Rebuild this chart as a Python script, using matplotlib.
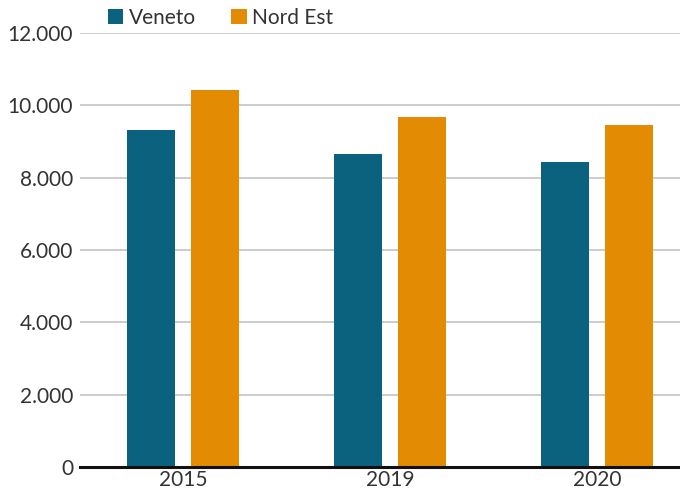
import matplotlib.pyplot as plt
import numpy as np

plt.rcParams['font.family'] = ['Lato', 'DejaVu Sans']

years = ['2015', '2019', '2020']
veneto = [9320, 8650, 8420]
nord_est = [10430, 9680, 9450]
yticks = [0, 2000, 4000, 6000, 8000, 10000, 12000]
ytick_labels = ['0', '2.000', '4.000', '6.000', '8.000', '10.000', '12.000']

teal = '#0b627e'
orange = '#e38c03'

fig = plt.figure(figsize=(6.8, 4.9), dpi=100)
ax = fig.add_axes([0.1176, 0.047, 0.8824, 0.886])

x = np.arange(len(years))
w = 0.232
off = 0.155
ax.bar(x - off, veneto, w, color=teal, label='Veneto', zorder=3)
ax.bar(x + off, nord_est, w, color=orange, label='Nord Est', zorder=3)

ax.set_xlim(-0.5, 2.4)
ax.set_ylim(0, 12000)
ax.set_yticks(yticks)
ax.set_yticklabels(ytick_labels)
ax.set_xticks(x)
ax.set_xticklabels(years)

ax.grid(axis='y', color='#c8c8c8', linewidth=1.3, zorder=0)
for s in ['top', 'right', 'left']:
    ax.spines[s].set_visible(False)
ax.spines['bottom'].set_color('#111111')
ax.spines['bottom'].set_linewidth(2.2)
ax.spines['bottom'].set_zorder(4)
ax.tick_params(axis='y', length=0, pad=5, labelsize=15, labelcolor='#333333')
ax.tick_params(axis='x', length=0, pad=2, labelsize=15, labelcolor='#333333')

ax.legend(loc='upper left', bbox_to_anchor=(0.14, 1.01), bbox_transform=fig.transFigure,
          ncol=2, frameon=False, fontsize=15, handlelength=0.75, handleheight=0.75,
          handletextpad=0.25, columnspacing=1.7, borderaxespad=0.2,
          labelcolor='#333333')

fig.savefig('out.png', dpi=100)
